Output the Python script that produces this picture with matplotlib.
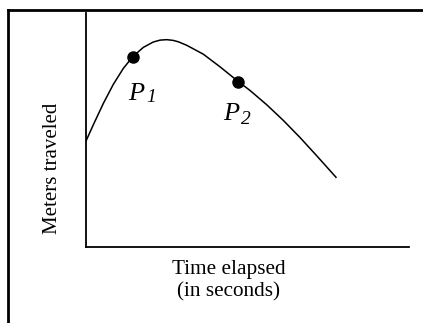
import matplotlib.pyplot as plt
from matplotlib.lines import Line2D

# curve (time, meters)
time_s = [0.0, 0.235, 0.544, 0.854, 1.163, 1.454, 1.782, 2.091, 2.30, 2.505, 2.70,
          2.864, 3.124, 3.637, 4.154, 4.720, 5.082, 5.598, 6.112, 6.628, 7.145, 7.742]
meters = [4.50, 5.22, 6.13, 6.95, 7.63, 8.13, 8.53, 8.76, 8.84, 8.86, 8.83,
          8.77, 8.62, 8.24, 7.70, 7.07, 6.69, 6.08, 5.41, 4.68, 3.90, 2.98]

# the two marked points
point_names = ['1', '2']
point_time = [1.454, 4.72]
point_meters = [8.13, 7.07]

serif = ['Liberation Serif', 'DejaVu Serif']

fig = plt.figure(figsize=(4.23, 3.23), dpi=100)
ax = fig.add_axes([0.2026, 0.2353, 0.7643, 0.7245])

ax.plot(time_s, meters, color='black', lw=1.1, solid_joinstyle='round')
ax.plot(point_time, point_meters, 'o', color='black', ms=8)

# P labels with subscripts, offset (points) from each marked point
label_off = [(-3.6, -31.5), (-11.2, -27.5)]
sub_off = [(10.0, -32.5), (1.8, -30.5)]
for name, x, y, lo, so in zip(point_names, point_time, point_meters, label_off, sub_off):
    ax.annotate('P', (x, y), xytext=lo, textcoords='offset points',
                family=serif, style='italic', fontsize=19, ha='left', va='baseline')
    ax.annotate(name, (x, y), xytext=so, textcoords='offset points',
                family=serif, style='italic', fontsize=14, ha='left', va='baseline')

ax.set_xlim(0, 10)
ax.set_ylim(0, 10)
ax.set_xticks([])
ax.set_yticks([])
ax.spines['top'].set_visible(False)
ax.spines['right'].set_visible(False)
ax.spines['left'].set_linewidth(1.3)
ax.spines['bottom'].set_linewidth(1.3)

fig.text(0.125, 0.48, 'Meters traveled', rotation=90, family=serif,
         fontsize=15, ha='center', va='center')
fig.text(0.541, 0.1517, 'Time elapsed', family=serif, fontsize=15.3,
         ha='center', va='baseline')
fig.text(0.541, 0.0814, '(in seconds)', family=serif, fontsize=15.3,
         ha='center', va='baseline')

# frame around the figure (only top and left edges show)
fig.add_artist(Line2D([0.019, 1.0], [0.969, 0.969], color='black', lw=2,
                      transform=fig.transFigure))
fig.add_artist(Line2D([0.019, 0.019], [0.0, 0.969], color='black', lw=2,
                      transform=fig.transFigure))

fig.savefig('out.png', dpi=100)
